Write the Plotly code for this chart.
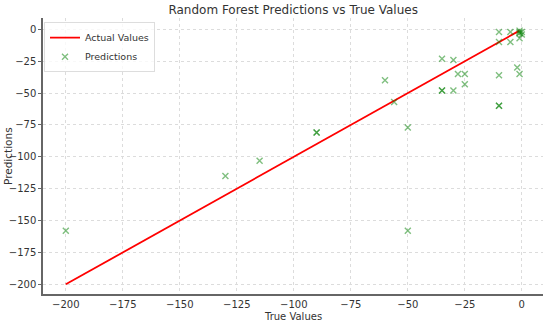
import plotly.graph_objects as go

true_values = [-200, -130, -115, -90, -90, -60, -56, -50, -50, -35, -35, -35, -30, -30, -28, -25, -25,
               -10, -10, -10, -10, -10, -5, -5, -2, -1, -1, -1, -1, -1, 0, 0]
predictions = [-158, -115, -103, -81, -81, -40, -57, -77, -158, -23, -48, -48, -24, -48, -35, -35, -43,
               -2, -10, -36, -60, -60, -2, -10, -30, -35, -7, -2, -3, -1, -2, -4]
line_x = [-200, -1]
line_y = [-200, -1]
x_ticks = [-200, -175, -150, -125, -100, -75, -50, -25, 0]
y_ticks = [0, -25, -50, -75, -100, -125, -150, -175, -200]

fig = go.Figure()
fig.add_trace(go.Scatter(x=line_x, y=line_y, mode="lines", name="Actual Values",
                         line=dict(color="#ff0000", width=1.8)))
fig.add_trace(go.Scatter(x=true_values, y=predictions, mode="markers", name="Predictions",
                         marker=dict(symbol="x-thin", size=6, color="rgba(0,128,0,0.5)",
                                     line=dict(color="rgba(0,128,0,0.5)", width=1.4))))

font = "DejaVu Sans, sans-serif"
fig.update_layout(
    width=550, height=322,
    margin=dict(l=43, r=7, t=18, b=28, autoexpand=False),
    paper_bgcolor="white", plot_bgcolor="white",
    font=dict(family=font, size=10, color="#333333"),
    title=dict(text="Random Forest Predictions vs True Values", x=0.533, xanchor="center",
               y=0.969, yanchor="middle", font=dict(size=12, color="#333333")),
    legend=dict(x=0.002, y=0.985, xanchor="left", yanchor="top", bgcolor="rgba(255,255,255,0.8)",
                bordercolor="#dddddd", borderwidth=1, font=dict(size=9.5),
                itemwidth=30, tracegroupgap=0),
    showlegend=True,
    annotations=[
        dict(text="True Values", x=0.5, xref="paper", y=0, yref="paper", yshift=-15,
             xanchor="center", yanchor="top", showarrow=False, font=dict(size=10)),
        dict(text="Predictions", x=0, xref="paper", xshift=-35, y=0.5, yref="paper",
             xanchor="center", yanchor="middle", textangle=-90, showarrow=False,
             font=dict(size=10.5)),
    ],
)
fig.update_xaxes(range=[-210, 9.3], tickvals=x_ticks, showgrid=True, gridcolor="#dcdcdc",
                 griddash="dot", gridwidth=1, zeroline=False, showline=True, linecolor="#666666",
                 linewidth=1.5, ticks="", automargin=False)
fig.update_yaxes(range=[-207.6, 8.9], tickvals=y_ticks, showgrid=True, gridcolor="#dcdcdc",
                 griddash="dot", gridwidth=1, zeroline=False, showline=True, linecolor="#666666",
                 linewidth=1.5, ticks="outside", ticklen=3, tickcolor="#666666", automargin=False)

fig.write_html("out.html", config={"displayModeBar": False},
               post_script="document.body.style.margin='0';document.body.style.overflow='hidden';")
